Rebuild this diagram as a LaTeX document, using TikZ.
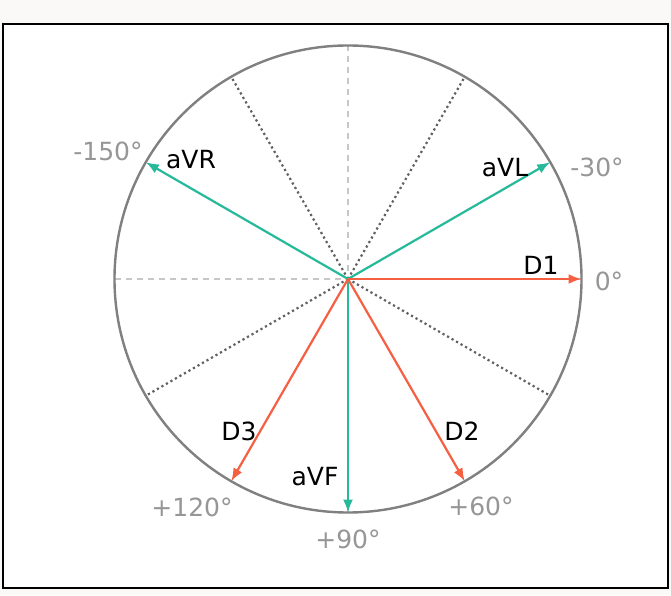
\documentclass[tikz,border=0pt]{standalone}
\usepackage{fontspec}
\setmainfont{DejaVu Sans}
\usetikzlibrary{arrows.meta}
\definecolor{vert}{RGB}{38,185,154}
\definecolor{rouge}{RGB}{246,96,66}
\definecolor{cercle}{RGB}{128,128,128}
\definecolor{angle}{RGB}{150,150,150}
\definecolor{fond}{RGB}{250,249,247}
\begin{document}
\begin{tikzpicture}[x=1pt,y=1pt]
\tikzset{derivation/.style={line width=2.2pt, -{Latex[length=13pt,width=10pt]}},
  axe/.style={dashed, dash pattern=on 6pt off 5pt, line width=1.5pt, color=black!22},
  repere/.style={dotted, dash pattern=on 2.2pt off 3pt, line width=2.2pt, color=black!62},
  nomderiv/.style={font=\fontsize{25}{28}\selectfont, text=black, inner sep=0pt},
  nomangle/.style={font=\fontsize{25}{28}\selectfont, text=angle, inner sep=0pt}}
\fill[fond] (0,0) rectangle (671,595);
\fill[white] (3,7) rectangle (668,571);
\draw[line width=2pt] (3,7) rectangle (668,571);
\useasboundingbox (0,0) rectangle (671,595);
\begin{scope}[shift={(348,316)}]
\coordinate (O) at (0,0);
\coordinate (P0) at (0:233.5);
\coordinate (P30) at (30:233.5);
\coordinate (P60) at (60:233.5);
\coordinate (P90) at (90:233.5);
\coordinate (P120) at (120:233.5);
\coordinate (P150) at (150:233.5);
\coordinate (P180) at (180:233.5);
\coordinate (M30) at (-30:233.5);
\coordinate (M60) at (-60:233.5);
\coordinate (M90) at (-90:233.5);
\coordinate (M120) at (-120:233.5);
\coordinate (M150) at (-150:233.5);
% axes et reperes
\draw[axe] (P180) -- (P0);
\draw[axe] (P90) -- (M90);
\draw[repere] (O) -- (P60);
\draw[repere] (O) -- (P120);
\draw[repere] (O) -- (M30);
\draw[repere] (O) -- (M150);
\draw[cercle, line width=2.4pt] (O) circle (233.5);
% derivations
\draw[derivation, vert] (O) -- (P30);
\draw[derivation, vert] (O) -- (P150);
\draw[derivation, vert] (O) -- (M90);
\draw[derivation, rouge] (O) -- (P0);
\draw[derivation, rouge] (O) -- (M60);
\draw[derivation, rouge] (O) -- (M120);
% etiquettes
\node[nomderiv] (aVR) at (-157,119) {aVR};
\node[nomderiv] (aVL) at (157,111) {aVL};
\node[nomderiv] (D1) at (193,14) {D1};
\node[nomderiv] (D2) at (114,-152) {D2};
\node[nomderiv] (D3) at (-109,-152) {D3};
\node[nomderiv] (aVF) at (-33,-198) {aVF};
\node[nomangle] (A150) at (-240,128) {-150°};
\node[nomangle] (A30) at (249,112) {-30°};
\node[nomangle] (A0) at (261,-2) {0°};
\node[nomangle] (A60) at (133,-227) {+60°};
\node[nomangle] (A120) at (-156,-228) {+120°};
\node[nomangle] (A90) at (0,-260) {+90°};
\end{scope}
\end{tikzpicture}
\end{document}
